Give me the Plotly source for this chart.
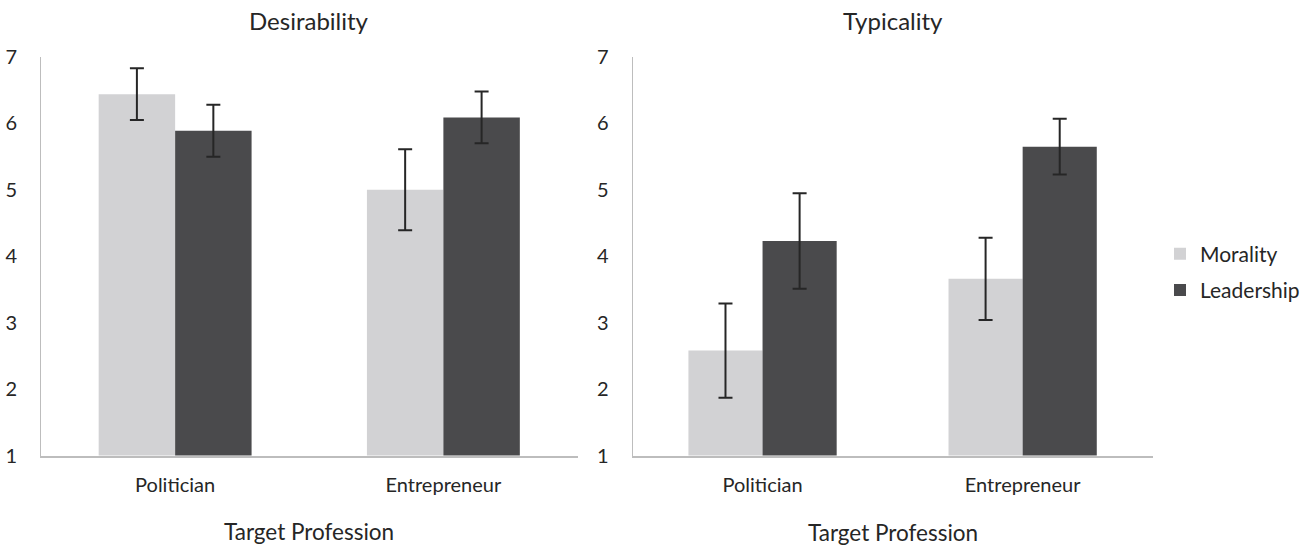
import plotly.graph_objects as go

# Group means (1-7 scale) with error bar half-widths
professions = ["Politician", "Entrepreneur"]
series_names = ["Morality", "Leadership"]

desirability_morality = [6.44, 5.00]
desirability_morality_err = [0.39, 0.61]
desirability_leadership = [5.89, 6.09]
desirability_leadership_err = [0.39, 0.39]

typicality_morality = [2.58, 3.66]
typicality_morality_err = [0.71, 0.62]
typicality_leadership = [4.23, 5.65]
typicality_leadership_err = [0.72, 0.42]

panel_titles = ["Desirability", "Typicality"]
x_title = "Target Profession"
y_ticks = [1, 2, 3, 4, 5, 6, 7]

COLORS = {"Morality": "#d2d2d4", "Leadership": "#4a4a4c"}
TEXT = "#262626"
FONT = "Lato, 'Open Sans', sans-serif"
W, H = 1305, 545

fig = go.Figure()

panels = [
    ("x", "y", [desirability_morality, desirability_leadership],
     [desirability_morality_err, desirability_leadership_err]),
    ("x2", "y2", [typicality_morality, typicality_leadership],
     [typicality_morality_err, typicality_leadership_err]),
]

for p, (xa, ya, vals, errs) in enumerate(panels):
    for name, v, e in zip(series_names, vals, errs):
        fig.add_trace(go.Bar(
            x=professions, y=v, name=name,
            xaxis=xa, yaxis=ya,
            marker=dict(color=COLORS[name], line=dict(width=0)),
            error_y=dict(type="data", array=e, visible=True,
                         color=TEXT, thickness=2, width=7),
            showlegend=(p == 0),
            legendgroup=name,
        ))

# plot areas in pixels
left_x = (41, 577.5)
right_x = (632.5, 1152.7)
y_top, y_bot = 57, 455.5

def px(a, b):
    return [a / W, b / W]

ydom = [(H - y_bot) / H, (H - y_top) / H]

axis_common = dict(
    showgrid=False, zeroline=False, showline=True,
    linecolor="#bdbdbd", linewidth=1.5, automargin=False,
    tickfont=dict(family=FONT, size=20, color=TEXT),
    ticks="", ticklabelstandoff=11,
)
yaxis_common = dict(axis_common, range=[1, 7], tickvals=y_ticks,
                    linewidth=1, ticklabelstandoff=19)

fig.update_layout(
    width=W, height=H,
    margin=dict(l=0, r=0, t=0, b=0),
    paper_bgcolor="white", plot_bgcolor="white",
    barmode="group", bargap=0.43, bargroupgap=0,
    font=dict(family=FONT, color=TEXT),
    xaxis=dict(axis_common, domain=px(*left_x), anchor="y"),
    yaxis=dict(yaxis_common, domain=ydom, anchor="x"),
    xaxis2=dict(axis_common, domain=px(*right_x), anchor="y2"),
    yaxis2=dict(yaxis_common, domain=ydom, anchor="x2"),
    legend=dict(
        x=1160 / W, y=(H - 272) / H, xanchor="left", yanchor="middle",
        font=dict(family=FONT, size=21, color=TEXT),
        tracegroupgap=6, traceorder="grouped",
        bgcolor="rgba(0,0,0,0)", borderwidth=0,
    ),
)

annotations = []
for title, (a, b) in zip(panel_titles, [left_x, right_x]):
    annotations.append(dict(
        text=title, x=(a + b) / 2 / W, y=(H - 21) / H,
        xref="paper", yref="paper", showarrow=False,
        xanchor="center", yanchor="middle",
        font=dict(family=FONT, size=24, color=TEXT),
    ))
for (a, b), yc in zip([left_x, right_x], [531, 532]):
    annotations.append(dict(
        text=x_title, x=(a + b) / 2 / W, y=(H - yc) / H,
        xref="paper", yref="paper", showarrow=False,
        xanchor="center", yanchor="middle",
        font=dict(family=FONT, size=22.5, color=TEXT),
    ))
fig.update_layout(annotations=annotations)

fig.write_html("out.html")
